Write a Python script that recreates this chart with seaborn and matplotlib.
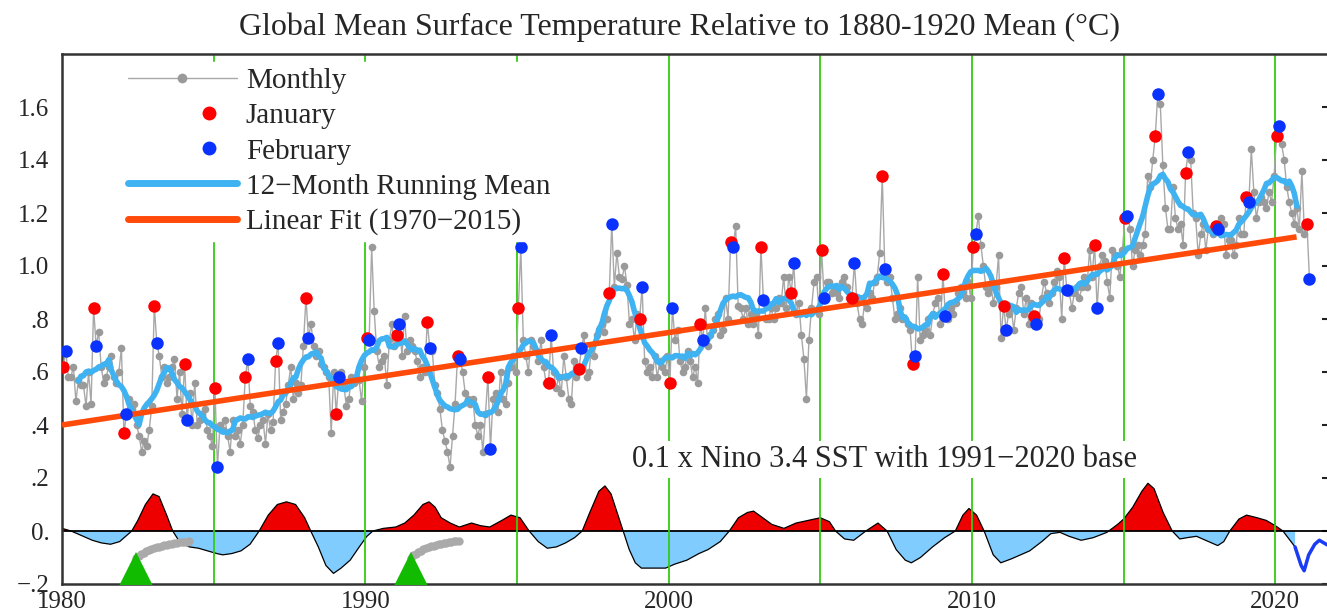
import numpy as np
import pandas as pd
import matplotlib.pyplot as plt
from matplotlib.lines import Line2D
from matplotlib.legend_handler import HandlerLine2D
import seaborn as sns

# monthly global temperature anomaly (C, rel. 1880-1920), Jan..Dec per row
temps_1980s = [
    0.62, 0.68, 0.58, 0.58, 0.62, 0.49, 0.57, 0.55, 0.55, 0.47, 0.60, 0.48,
    0.84, 0.70, 0.75, 0.62, 0.56, 0.58, 0.62, 0.66, 0.58, 0.56, 0.60, 0.69,
    0.37, 0.44, 0.50, 0.46, 0.48, 0.40, 0.36, 0.30, 0.34, 0.32, 0.38, 0.47,
    0.85, 0.71, 0.66, 0.58, 0.62, 0.56, 0.58, 0.62, 0.65, 0.50, 0.60, 0.44,
    0.63, 0.42, 0.52, 0.40, 0.56, 0.40, 0.42, 0.44, 0.46, 0.38, 0.36, 0.32,
    0.54, 0.24, 0.40, 0.38, 0.42, 0.36, 0.30, 0.42, 0.36, 0.38, 0.33, 0.40,
    0.58, 0.65, 0.47, 0.45, 0.38, 0.35, 0.40, 0.42, 0.33, 0.44, 0.38, 0.41,
    0.64, 0.71, 0.42, 0.45, 0.48, 0.55, 0.62, 0.50, 0.56, 0.52, 0.55, 0.70,
    0.88, 0.73, 0.78, 0.70, 0.66, 0.68, 0.63, 0.62, 0.60, 0.58, 0.37, 0.60,
    0.44, 0.58, 0.60, 0.55, 0.47, 0.50, 0.58, 0.56, 0.58, 0.57, 0.49, 0.62,
]
temps_1990s = [
    0.73, 0.72, 1.07, 0.83, 0.68, 0.62, 0.64, 0.66, 0.55, 0.72, 0.78, 0.70,
    0.74, 0.78, 0.66, 0.81, 0.68, 0.72, 0.70, 0.68, 0.64, 0.58, 0.62, 0.60,
    0.79, 0.69, 0.68, 0.55, 0.52, 0.46, 0.38, 0.34, 0.30, 0.24, 0.36, 0.48,
    0.66, 0.65, 0.60, 0.52, 0.50, 0.48, 0.50, 0.40, 0.36, 0.40, 0.30, 0.44,
    0.58, 0.31, 0.50, 0.52, 0.45, 0.60, 0.50, 0.48, 0.56, 0.62, 0.66, 0.60,
    0.84, 1.07, 0.72, 0.66, 0.60, 0.72, 0.70, 0.68, 0.64, 0.72, 0.62, 0.56,
    0.56, 0.74, 0.60, 0.54, 0.58, 0.52, 0.66, 0.58, 0.50, 0.48, 0.64, 0.58,
    0.61, 0.69, 0.74, 0.58, 0.60, 0.70, 0.66, 0.74, 0.76, 0.78, 0.75, 0.80,
    0.90, 1.16, 0.92, 1.05, 0.96, 0.95, 1.00, 0.93, 0.78, 0.80, 0.72, 0.82,
    0.80, 0.92, 0.64, 0.60, 0.62, 0.58, 0.66, 0.58, 0.64, 0.62, 0.60, 0.66,
]
temps_2000s = [
    0.56, 0.84, 0.72, 0.76, 0.64, 0.60, 0.62, 0.68, 0.64, 0.58, 0.62, 0.56,
    0.78, 0.72, 0.84, 0.70, 0.74, 0.76, 0.80, 0.82, 0.74, 0.76, 0.88, 0.80,
    1.09, 1.07, 1.15, 0.85, 0.84, 0.80, 0.84, 0.78, 0.82, 0.78, 0.82, 0.74,
    1.07, 0.87, 0.80, 0.80, 0.84, 0.80, 0.84, 0.88, 0.86, 0.96, 0.84, 0.96,
    0.90, 1.01, 0.82, 0.86, 0.74, 0.65, 0.50, 0.72, 0.84, 0.94, 0.96, 0.82,
    1.06, 0.88, 0.94, 0.94, 0.90, 0.92, 0.90, 0.88, 0.94, 0.96, 0.92, 0.88,
    0.88, 1.01, 0.86, 0.80, 0.78, 0.86, 0.84, 0.90, 0.88, 0.94, 0.96, 1.05,
    1.34, 0.99, 0.94, 0.96, 0.88, 0.80, 0.82, 0.84, 0.80, 0.80, 0.78, 0.76,
    0.63, 0.66, 0.96, 0.72, 0.74, 0.76, 0.80, 0.74, 0.82, 0.86, 0.88, 0.78,
    0.97, 0.81, 0.80, 0.84, 0.82, 0.86, 0.90, 0.92, 0.90, 0.88, 0.94, 0.88,
]
temps_2010s = [
    1.07, 1.12, 1.19, 1.08, 1.00, 0.92, 0.90, 0.92, 0.86, 0.92, 1.04, 0.73,
    0.85, 0.76, 0.82, 0.84, 0.76, 0.84, 0.90, 0.92, 0.82, 0.88, 0.78, 0.86,
    0.81, 0.78, 0.80, 0.88, 0.94, 0.90, 0.86, 0.90, 0.94, 0.98, 0.96, 0.80,
    1.03, 0.91, 0.90, 0.84, 0.90, 0.92, 0.88, 0.92, 0.96, 0.92, 1.06, 0.96,
    1.08, 0.84, 1.00, 1.04, 1.02, 0.94, 0.88, 1.06, 1.04, 1.00, 0.96, 1.06,
    1.18, 1.19, 1.14, 1.00, 1.06, 1.08, 1.04, 1.08, 1.12, 1.34, 1.30, 1.40,
    1.49, 1.65, 1.61, 1.38, 1.22, 1.14, 1.14, 1.30, 1.18, 1.14, 1.16, 1.08,
    1.35, 1.43, 1.40, 1.20, 1.18, 1.04, 1.12, 1.16, 1.06, 1.14, 1.14, 1.12,
    1.15, 1.14, 1.18, 1.16, 1.04, 1.10, 1.10, 1.04, 1.08, 1.18, 1.12, 1.12,
    1.26, 1.24, 1.44, 1.28, 1.18, 1.24, 1.26, 1.24, 1.22, 1.28, 1.24, 1.34,
]
temps_2020s = [
    1.49, 1.53, 1.46, 1.40, 1.30, 1.24, 1.20, 1.16, 1.22, 1.14, 1.36, 1.12,
    1.16, 0.95,
]

# linear fit (1970-2015) end values
fit_years = [1980.0, 2020.7]
fit_values = [0.40, 1.11]

# 0.1 x Nino 3.4 SST anomaly
nino_years = [
    1980.0, 1980.3, 1980.7, 1981.0, 1981.3, 1981.6, 1981.9, 1982.1, 1982.3, 1982.5,
    1982.75, 1983.0, 1983.2, 1983.45, 1983.65, 1983.9, 1984.2, 1984.5, 1984.8, 1985.1,
    1985.3, 1985.6, 1985.9, 1986.2, 1986.5, 1986.8, 1987.1, 1987.4, 1987.7, 1988.0,
    1988.2, 1988.45, 1988.7, 1988.95, 1989.2, 1989.5, 1989.8, 1990.05, 1990.25, 1990.6,
    1991.0, 1991.3, 1991.6, 1991.9, 1992.1, 1992.3, 1992.5, 1992.8, 1993.1, 1993.5,
    1993.8, 1994.1, 1994.5, 1994.8, 1995.1, 1995.4, 1995.7, 1996.0, 1996.3, 1996.6,
    1996.9, 1997.15, 1997.4, 1997.7, 1997.9, 1998.1, 1998.3, 1998.5, 1998.7, 1998.9,
    1999.1, 1999.5, 1999.9, 2000.2, 2000.6, 2001.0, 2001.3, 2001.7, 2002.0, 2002.3,
    2002.6, 2002.8, 2003.1, 2003.4, 2003.8, 2004.2, 2004.6, 2005.0, 2005.3, 2005.5,
    2005.8, 2006.1, 2006.5, 2006.9, 2007.2, 2007.5, 2007.8, 2008.0, 2008.3, 2008.7,
    2009.1, 2009.45, 2009.7, 2009.9, 2010.15, 2010.4, 2010.7, 2010.95, 2011.3, 2011.6,
    2011.9, 2012.3, 2012.6, 2012.9, 2013.2, 2013.6, 2014.0, 2014.45, 2014.8, 2015.0,
    2015.3, 2015.6, 2015.8, 2016.0, 2016.3, 2016.6, 2016.85, 2017.1, 2017.4, 2017.8,
    2018.1, 2018.3, 2018.5, 2018.8, 2019.05, 2019.4, 2019.7, 2020.0, 2020.25, 2020.45,
    2020.65,
]
nino_values = [
    0.01, 0.0, -0.02, -0.035, -0.045, -0.05, -0.04, -0.02, 0.0, 0.04,
    0.10, 0.14, 0.13, 0.06, 0.0, -0.045, -0.06, -0.065, -0.075, -0.085,
    -0.09, -0.085, -0.075, -0.05, 0.0, 0.06, 0.10, 0.11, 0.10, 0.05,
    0.0, -0.06, -0.13, -0.16, -0.14, -0.11, -0.06, -0.02, 0.0, 0.01,
    0.015, 0.03, 0.06, 0.10, 0.11, 0.09, 0.05, 0.03, 0.015, 0.03,
    0.02, 0.015, 0.04, 0.06, 0.05, 0.0, -0.04, -0.065, -0.06, -0.045,
    -0.025, 0.0, 0.07, 0.15, 0.17, 0.14, 0.07, 0.0, -0.07, -0.12,
    -0.14, -0.14, -0.14, -0.125, -0.11, -0.085, -0.07, -0.04, 0.0, 0.05,
    0.07, 0.075, 0.05, 0.025, 0.01, 0.03, 0.04, 0.05, 0.035, 0.0,
    -0.03, -0.035, 0.0, 0.03, 0.0, -0.07, -0.11, -0.12, -0.10, -0.06,
    -0.025, 0.0, 0.06, 0.085, 0.06, 0.0, -0.09, -0.12, -0.105, -0.09,
    -0.075, -0.04, -0.01, -0.005, -0.02, -0.035, -0.025, -0.005, 0.025, 0.045,
    0.09, 0.15, 0.18, 0.16, 0.07, 0.0, -0.03, -0.025, -0.02, -0.04,
    -0.055, -0.04, 0.0, 0.045, 0.06, 0.05, 0.04, 0.02, 0.0, -0.03,
    -0.06,
]
# latest (weekly) Nino values
nino_recent_years = [2020.65, 2020.85, 2020.95, 2021.1, 2021.3, 2021.45, 2021.6, 2021.75]
nino_recent_values = [-0.06, -0.13, -0.15, -0.09, -0.05, -0.035, -0.045, -0.055]

# volcanic aerosol curves after El Chichon and Pinatubo
volcano_years = [1982.45, 1991.5]
chichon_values = [-0.100, -0.093, -0.087, -0.082, -0.077, -0.073, -0.069, -0.065,
                  -0.062, -0.059, -0.056, -0.054, -0.052, -0.050, -0.048, -0.046,
                  -0.045, -0.043, -0.042, -0.041, -0.040, -0.039]
pinatubo_values = [-0.100, -0.092, -0.085, -0.079, -0.074, -0.069, -0.065, -0.061,
                   -0.058, -0.055, -0.052, -0.050, -0.048, -0.046, -0.044, -0.042,
                   -0.040, -0.039, -0.038, -0.037]

ytick_vals = [-0.2, 0.0, 0.2, 0.4, 0.6, 0.8, 1.0, 1.2, 1.4, 1.6]
ytick_labels = ['\u2212.2', '0.', '.2', '.4', '.6', '.8', '1.0', '1.2', '1.4', '1.6']
xtick_vals = [1980, 1990, 2000, 2010, 2020]


class RightDot(HandlerLine2D):
    # legend dot sits in the right part of the handle, like the original
    def get_xdata(self, legend, xdescent, ydescent, width, height, fontsize):
        xm = -xdescent + 0.74 * width
        return np.array([xm, xm]), np.array([xm])


# ---- assemble
temps = np.array(temps_1980s + temps_1990s + temps_2000s + temps_2010s + temps_2020s)
n = len(temps)
df = pd.DataFrame({'t': 1980 + (np.arange(n) + 0.5) / 12, 'temp': temps,
                   'month': np.arange(n) % 12})
df['run'] = df['temp'].rolling(12, center=True).mean()
nino_t = np.array(nino_years)
nino_v = np.array(nino_values)

sns.set_style('white')
plt.rcParams['font.family'] = ['Liberation Serif', 'DejaVu Serif']

fig = plt.figure(figsize=(13.27, 6.15), dpi=100)
ax = fig.add_axes([62 / 1327, 31 / 615, 1274 / 1327, 530 / 615])

# Nino panel
ax.fill_between(nino_t, nino_v, 0, where=nino_v >= 0, interpolate=True,
                color='#ee0000', lw=0, zorder=1)
ax.fill_between(nino_t, nino_v, 0, where=nino_v <= 0, interpolate=True,
                color='#80ccff', lw=0, zorder=1)
ax.plot(nino_t, nino_v, color='black', lw=0.9, zorder=1.5)
ax.axhline(0, color='black', lw=1.3, zorder=1.6)
ax.plot(nino_recent_years, nino_recent_values, color='#1a3cf5', lw=2.5, zorder=1.7)

for yr in range(1985, 2021, 5):
    ax.axvline(yr, color='#33cc11', lw=1.3, zorder=2)

ch_t = volcano_years[0] + np.arange(len(chichon_values)) / 12
pi_t = volcano_years[1] + np.arange(len(pinatubo_values)) / 12
ax.plot(ch_t, chichon_values, 'o', color='#aaaaaa', ms=6, mew=0, zorder=3)
ax.plot(pi_t, pinatubo_values, 'o', color='#aaaaaa', ms=6, mew=0, zorder=3)
ax.plot(volcano_years, [-0.143, -0.143], '^', color='#11bb00', ms=24, mew=0, zorder=4)

# temperature
sns.lineplot(data=df, x='t', y='temp', ax=ax, color='#a8a8a8', lw=1,
             marker='o', markersize=5.5, markeredgewidth=0,
             markerfacecolor='#9a9a9a', zorder=5)
sns.lineplot(data=df, x='t', y='run', ax=ax, color='#3fb2f2', lw=4, zorder=6)
ax.plot(fit_years, fit_values, color='#ff4a0a', lw=4, solid_capstyle='butt', zorder=7)
jan = df[df['month'] == 0]
feb = df[df['month'] == 1]
ax.plot(jan['t'], jan['temp'], 'o', color='#ff0000', ms=9, mew=0, zorder=8)
ax.plot(feb['t'], feb['temp'], 'o', color='#0a32ff', ms=9, mew=0, zorder=8)

ax.text(2007.1, 0.27, '0.1 x Nino 3.4 SST with 1991\u22122020 base', ha='center',
        va='center', fontsize=22, zorder=9,
        bbox=dict(fc='white', ec='none', pad=3))

h_month = Line2D([], [], color='#a8a8a8', lw=1, marker='o', markersize=7,
                 markerfacecolor='#9a9a9a', markeredgewidth=0)
h_jan = Line2D([], [], ls='none', marker='o', color='#ff0000', markersize=10, mew=0)
h_feb = Line2D([], [], ls='none', marker='o', color='#0a32ff', markersize=10, mew=0)
h_run = Line2D([], [], color='#3fb2f2', lw=5)
h_fit = Line2D([], [], color='#ff4a0a', lw=5)
labels = ['Monthly', 'January', 'February', '12\u2212Month Running Mean',
          'Linear Fit (1970\u22122015)']
leg = ax.legend([h_month, h_jan, h_feb, h_run, h_fit], labels, loc='upper left',
                bbox_to_anchor=(0.047, 0.985), borderaxespad=0, frameon=True,
                framealpha=1, fancybox=False, edgecolor='white', fontsize=21,
                handlelength=3.75, handletextpad=0.3, labelspacing=0.3,
                borderpad=0.2,
                handler_map={h_jan: RightDot(), h_feb: RightDot()})
leg.set_zorder(10)

ax.set_xlim(1980, 2022)
ax.set_ylim(-0.2, 1.8)
ax.set_yticks(ytick_vals)
ax.set_yticklabels(ytick_labels)
ax.set_xticks(xtick_vals)
ax.set_xlabel('')
ax.set_ylabel('')
ax.tick_params(axis='y', direction='in', length=10, width=1.5, right=True,
               labelsize=18, pad=9, color='#222222')
ax.tick_params(axis='x', length=0, labelsize=18, pad=5)
for side in ['left', 'top', 'bottom']:
    ax.spines[side].set_color('#333333')
    ax.spines[side].set_linewidth(1.8)
ax.spines['right'].set_visible(False)

fig.text(0.512, 0.955, 'Global Mean Surface Temperature Relative to 1880-1920 Mean (\u00b0C)',
         ha='center', va='center', fontsize=23)

fig.savefig('out.png', dpi=100)
